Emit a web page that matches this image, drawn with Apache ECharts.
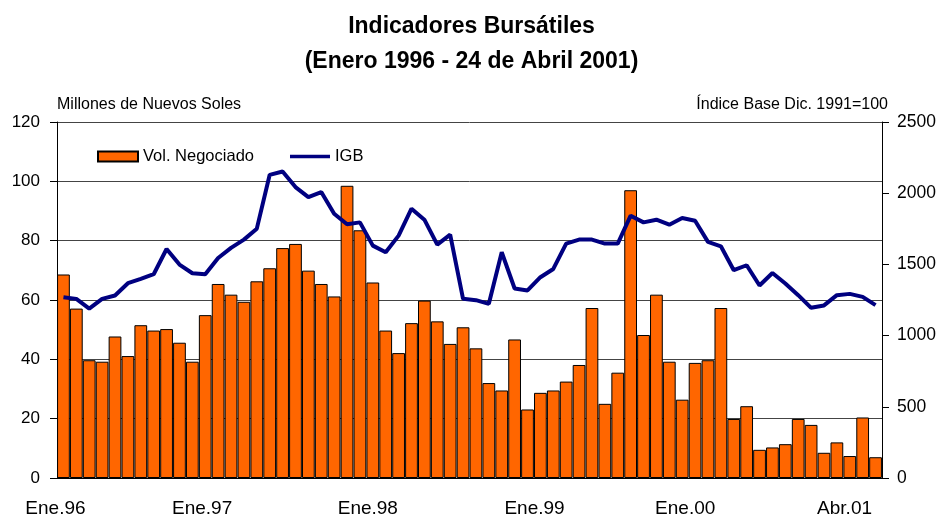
<!DOCTYPE html>
<html>
<head>
<meta charset="utf-8">
<script src="https://cdn.jsdelivr.net/npm/echarts@6/dist/echarts.min.js"></script>
<style>html,body{margin:0;padding:0;background:#fff}#c{width:943px;height:518px}</style>
</head>
<body>
<div id="c"></div>
<script>
// Months Jan 1996 - Apr 2001
const monthNames = ['Ene','Feb','Mar','Abr','May','Jun','Jul','Ago','Set','Oct','Nov','Dic'];
const categories = [];
for (let y = 1996; y <= 2001; y++) {
  for (let m = 0; m < 12; m++) {
    if (y === 2001 && m > 3) break;
    categories.push(monthNames[m] + '.' + String(y).slice(2));
  }
}
const shownLabels = ['Ene.96','Ene.97','Ene.98','Ene.99','Ene.00','Abr.01'];

// Vol. Negociado (millones de nuevos soles)
const volNegociado = [
  68.6, 57.1, 39.7, 39.2, 47.7, 41.1, 51.5, 49.7, 50.2, 45.6, 39.2, 54.9,
  65.4, 61.8, 59.4, 66.3, 70.7, 77.5, 78.9, 69.9, 65.4, 61.2, 98.5, 83.5,
  65.9, 49.7, 42.1, 52.2, 59.8, 52.8, 45.2, 50.8, 43.7, 32.0, 29.5, 46.7,
  23.1, 28.7, 29.5, 32.5, 38.1, 57.3, 25.0, 35.5, 97.0, 48.2, 61.8, 39.2,
  26.4, 38.8, 39.7, 57.3, 19.9, 24.2, 9.5, 10.3, 11.4, 19.9, 17.9, 8.5,
  12.0, 7.4, 20.4, 7.0
];

// IGB (Índice Base Dic. 1991=100)
const igb = [
  1270, 1258, 1190, 1258, 1282, 1368, 1398, 1431, 1608, 1499, 1438, 1431,
  1545, 1616, 1674, 1751, 2129, 2152, 2043, 1973, 2008, 1856, 1782, 1795,
  1632, 1585, 1702, 1891, 1814, 1639, 1709, 1258, 1249, 1223, 1585, 1331,
  1317, 1410, 1468, 1646, 1674, 1674, 1646, 1646, 1842, 1795, 1814, 1779,
  1826, 1807, 1658, 1627, 1459, 1494, 1352, 1440, 1366, 1284, 1195, 1212,
  1284, 1293, 1272, 1214
];

const leftTicks = { min: 0, max: 120, interval: 20 };
const rightTicks = { min: 0, max: 2500, interval: 500 };

// label nudges (style only): [padLeft, padRight]
const labelPad = {
  'Ene.96': [0, 16], 'Ene.97': [0, 32], 'Ene.98': [0, 10],
  'Ene.99': [14, 0], 'Ene.00': [6, 0], 'Abr.01': [0, 62]
};

const FONT = '"Liberation Sans", Arial, sans-serif';
const rich = {};
shownLabels.forEach(function (l, i) {
  rich['l' + i] = { fontFamily: FONT, fontSize: 19, color: '#000', padding: [0, labelPad[l][1], 0, labelPad[l][0]] };
});

const chart = echarts.init(document.getElementById('c'), null, { renderer: 'canvas' });
chart.setOption({
  animation: false,
  backgroundColor: '#fff',
  textStyle: { fontFamily: FONT, color: '#000' },
  title: {
    text: 'Indicadores Bursátiles\n(Enero 1996 - 24 de Abril 2001)',
    left: 'center',
    top: 4,
    textStyle: { fontFamily: FONT, fontSize: 23, fontWeight: 'bold', color: '#000', lineHeight: 35 }
  },
  legend: {
    left: 92,
    top: 143,
    itemWidth: 40,
    itemHeight: 10,
    itemGap: 36,
    symbolKeepAspect: true,
    textStyle: { fontFamily: FONT, fontSize: 16.5, color: '#000' },
    data: [
      { name: 'Vol. Negociado', icon: 'rect' },
      { name: 'IGB', icon: 'path://M0,0 L44,0 L44,4 L0,4 Z', itemStyle: { color: '#000080', borderWidth: 0 } }
    ]
  },
  grid: { left: 57, right: 61, top: 122, bottom: 39, containLabel: false },
  xAxis: {
    type: 'category',
    data: categories,
    boundaryGap: true,
    axisLine: { show: true, lineStyle: { color: '#000', width: 1 } },
    axisTick: { show: false },
    axisLabel: {
      interval: function (i, v) { return shownLabels.indexOf(v) >= 0; },
      fontFamily: FONT, fontSize: 19, color: '#000', margin: 21,
      formatter: function (v) {
        const k = shownLabels.indexOf(v);
        return k >= 0 ? '{l' + k + '|' + v + '}' : v;
      },
      rich: rich
    }
  },
  yAxis: [
    {
      type: 'value',
      min: leftTicks.min, max: leftTicks.max, interval: leftTicks.interval,
      name: 'Millones de Nuevos Soles',
      nameLocation: 'end',
      nameGap: 9,
      nameTextStyle: { fontFamily: FONT, fontSize: 16, color: '#000', align: 'left' },
      axisLine: { show: true, lineStyle: { color: '#000', width: 1 } },
      axisTick: { show: true, length: 7, inside: false, lineStyle: { color: '#000' } },
      axisLabel: { fontFamily: FONT, fontSize: 17, color: '#000', margin: 17 },
      splitLine: { show: true, lineStyle: { color: '#444', width: 1 } }
    },
    {
      type: 'value',
      min: rightTicks.min, max: rightTicks.max, interval: rightTicks.interval,
      name: 'Índice Base Dic. 1991=100',
      nameLocation: 'end',
      nameGap: 9,
      nameTextStyle: { fontFamily: FONT, fontSize: 16, color: '#000', align: 'right', padding: [0, -6, 0, 0] },
      axisLine: { show: true, lineStyle: { color: '#000', width: 1 } },
      axisTick: { show: true, length: 7, inside: false, lineStyle: { color: '#000' } },
      axisLabel: { fontFamily: FONT, fontSize: 17.5, color: '#000', margin: 15, formatter: function (v) { return String(v); } },
      splitLine: { show: false }
    }
  ],
  series: [
    {
      name: 'Vol. Negociado',
      type: 'bar',
      yAxisIndex: 0,
      data: volNegociado,
      barCategoryGap: '1%',
      itemStyle: { color: '#FF6600', borderColor: '#000', borderWidth: 1 }
    },
    {
      name: 'IGB',
      type: 'line',
      yAxisIndex: 1,
      data: igb,
      symbol: 'none',
      lineStyle: { color: '#000080', width: 4 },
      itemStyle: { color: '#000080' },
      z: 5
    }
  ]
});
</script>
</body>
</html>
